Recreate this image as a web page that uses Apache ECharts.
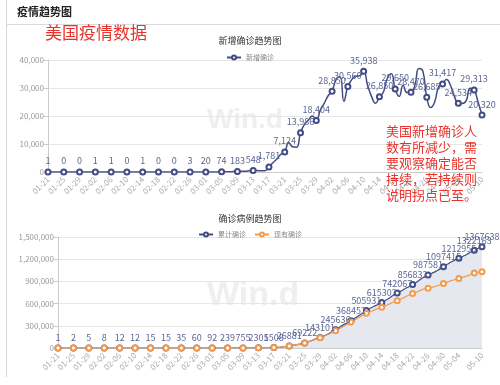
<!DOCTYPE html>
<html><head><meta charset="utf-8">
<script src="https://cdn.jsdelivr.net/npm/echarts@6/dist/echarts.min.js"></script>
<style>html,body{margin:0;padding:0;background:#fff}#c{width:500px;height:385px}</style>
</head><body><div id="c"></div>
<script>
const dates = [
'01-21','01-22','01-23','01-24','01-25','01-26','01-27','01-28','01-29','01-30','01-31',
'02-01','02-02','02-03','02-04','02-05','02-06','02-07','02-08','02-09','02-10','02-11','02-12','02-13','02-14','02-15','02-16','02-17','02-18','02-19','02-20','02-21','02-22','02-23','02-24','02-25','02-26','02-27','02-28','02-29',
'03-01','03-02','03-03','03-04','03-05','03-06','03-07','03-08','03-09','03-10','03-11','03-12','03-13','03-14','03-15','03-16','03-17','03-18','03-19','03-20','03-21','03-22','03-23','03-24','03-25','03-26','03-27','03-28','03-29','03-30','03-31',
'04-01','04-02','04-03','04-04','04-05','04-06','04-07','04-08','04-09','04-10','04-11','04-12','04-13','04-14','04-15','04-16','04-17','04-18','04-19','04-20','04-21','04-22','04-23','04-24','04-25','04-26','04-27','04-28','04-29','04-30',
'05-01','05-02','05-03','05-04','05-05','05-06','05-07','05-08','05-09','05-10'];

// 新增确诊 (daily new)
const newCases = [
1,0,0,1,0,3,0,0,0,1,1,
0,1,3,0,0,1,0,0,0,0,1,0,1,1,0,0,0,0,0,0,20,0,0,22,0,3,1,4,7,
20,21,22,30,74,80,110,143,183,230,300,468,548,500,450,476,1781,3300,4650,6300,7124,10500,9000,8855,13986,17000,18500,19975,18404,22000,24500,
27235,28850,33000,34000,25256,30560,33000,34200,34341,35938,31000,27000,24521,26850,28500,33500,35115,29650,27000,31000,28365,28470,31000,37000,36064,26685,23000,25000,30417,31417,
33000,31000,27006,24534,24500,25500,29895,29313,25000,20320];

// 累计确诊 (cumulative)
const cumCases = [
1,1,1,2,2,5,5,5,5,6,7,
7,8,11,11,11,12,12,12,12,12,13,13,14,15,15,15,15,15,15,15,35,35,35,57,57,60,61,65,72,
92,113,135,165,239,319,429,572,755,985,1285,1753,2301,2801,3251,3727,5508,8808,13458,19758,26881,37381,46381,55236,69222,86222,104722,124697,143101,165101,189601,
216836,245636,278636,312636,337892,368452,401452,435652,469993,505931,536931,563931,588452,615302,643802,677302,712417,742067,769067,800067,828432,856832,887832,924832,960896,987581,1010581,1035581,1065998,1097415,
1130415,1161415,1188421,1212955,1237455,1262955,1292850,1322163,1347163,1367638];

// 现有确诊 (active)
const activeCases = [
1,1,1,2,2,5,5,5,5,6,7,
7,8,11,11,11,12,12,12,12,11,12,12,13,13,13,13,13,13,13,13,33,33,33,55,55,57,58,62,68,
86,105,125,152,222,300,405,545,720,945,1240,1700,2230,2720,3150,3610,5350,8600,13150,19350,26300,36600,45400,54000,67600,84000,101800,121000,138500,159000,181500,
206500,232000,262000,292000,318000,350000,380000,410000,440000,470000,492000,512000,532000,552000,572000,596000,618000,638000,662000,688000,712000,735000,755000,778000,798000,808000,820000,835000,852000,870000,
890000,910000,925000,940000,955000,972000,992000,1015000,1024000,1030000];

const yTicks1 = [0, 40000, 10000];
const yTicks2 = [0, 1500000, 300000];

const N = dates.length;
const marked = i => i % 4 === 0 || i === N - 1;
const axisShown = i => (i % 4 === 0 && i < N - 4) || i === N - 1;

function pts(arr, withLabel) {
  return arr.map((v, i) => marked(i)
    ? { value: v, symbol: 'emptyCircle', label: { show: withLabel } }
    : { value: v, symbol: 'none' });
}

const FONT = '"Noto Sans CJK SC", "Noto Sans", sans-serif';
const NAVY = '#424c84';
const LBL = '#5b6594';
const ORANGE = '#f29b4c';

const xAxisBase = (gi) => ({
  type: 'category', gridIndex: gi, data: dates, boundaryGap: false,
  axisLine: { lineStyle: { color: '#ccc' } },
  axisTick: { show: false },
  axisLabel: { interval: (i) => axisShown(i), rotate: 45, fontSize: 8, color: '#aaa', fontFamily: FONT, margin: 6 }
});
const yAxisBase = (gi, t) => ({
  type: 'value', gridIndex: gi, min: t[0], max: t[1], interval: t[2],
  axisLine: { show: true, lineStyle: { color: '#ccc' } },
  axisTick: { show: true, length: 4, lineStyle: { color: '#ccc' } },
  axisLabel: { fontSize: 8, color: '#999', fontFamily: FONT, margin: 4 },
  splitLine: { lineStyle: { color: '#e6e6e6' } }
});

const chart = echarts.init(document.getElementById('c'), null, { renderer: 'canvas' });
chart.setOption({
  backgroundColor: '#fff',
  animation: false,
  textStyle: { fontFamily: FONT },
  title: [
    { text: '新增确诊趋势图', left: 'center', top: 31, textStyle: { fontSize: 9, fontWeight: 'normal', color: '#333', fontFamily: FONT } },
    { text: '确诊病例趋势图', left: 'center', top: 209, textStyle: { fontSize: 9, fontWeight: 'normal', color: '#333', fontFamily: FONT } }
  ],
  legend: [
    { data: ['新增确诊'], left: 'center', top: 49, itemWidth: 14, itemHeight: 5, itemGap: 8, textStyle: { fontSize: 7, color: '#888', fontFamily: FONT } },
    { data: ['累计确诊', '现有确诊'], left: 'center', top: 226, itemWidth: 14, itemHeight: 5, itemGap: 8, textStyle: { fontSize: 7, color: '#888', fontFamily: FONT } }
  ],
  grid: [
    { left: 48, right: 18, top: 60, height: 112 },
    { left: 58, right: 18, top: 237, height: 111 }
  ],
  xAxis: [xAxisBase(0), xAxisBase(1)],
  yAxis: [yAxisBase(0, yTicks1), yAxisBase(1, yTicks2)],
  series: [
    {
      name: '新增确诊', type: 'line', xAxisIndex: 0, yAxisIndex: 0, smooth: true,
      showAllSymbol: true, symbol: 'emptyCircle', symbolSize: 5,
      data: pts(newCases, true),
      lineStyle: { color: NAVY, width: 1.5 }, itemStyle: { color: NAVY, borderWidth: 1 },
      label: { show: false, position: 'top', distance: 3, fontSize: 9, color: LBL, fontFamily: FONT,
        formatter: p => Number(p.value).toLocaleString('en-US') }
    },
    {
      name: '累计确诊', type: 'line', xAxisIndex: 1, yAxisIndex: 1, smooth: true,
      showAllSymbol: true, symbol: 'emptyCircle', symbolSize: 5,
      data: pts(cumCases, true),
      lineStyle: { color: NAVY, width: 1.2 }, itemStyle: { color: NAVY, borderWidth: 1 },
      areaStyle: { color: '#e6e8ef', opacity: 1 },
      label: { show: false, position: 'top', distance: 2, fontSize: 9, color: LBL, fontFamily: FONT }
    },
    {
      name: '现有确诊', type: 'line', xAxisIndex: 1, yAxisIndex: 1, smooth: true,
      showAllSymbol: true, symbol: 'emptyCircle', symbolSize: 5,
      data: pts(activeCases, false),
      lineStyle: { color: ORANGE, width: 1.2 }, itemStyle: { color: ORANGE, borderWidth: 1 }
    }
  ],
  graphic: [
    { type: 'line', shape: { x1: 6.5, y1: 0, x2: 6.5, y2: 377 }, style: { stroke: '#d6d6d6', lineWidth: 1 }, z: 0 },
    { type: 'line', shape: { x1: 6, y1: 24.5, x2: 500, y2: 24.5 }, style: { stroke: '#dcdcdc', lineWidth: 1 }, z: 0 },
    { type: 'text', left: 17, top: 6, style: { text: '疫情趋势图', fill: '#222', font: 'bold 11px ' + FONT }, z: 5 },
    { type: 'text', left: 45, top: 24, style: { text: '美国疫情数据', fill: '#e8332b', font: '17px ' + FONT }, z: 5 },
    { type: 'text', left: 207, top: 106, style: { text: 'Win.d', fill: '#efefef', font: 'bold 28px Arial, "Liberation Sans", sans-serif' }, z: 0 },
    { type: 'text', left: 207, top: 279, style: { text: 'Win.d', fill: '#efefef', font: 'bold 34px Arial, "Liberation Sans", sans-serif' }, z: 0 },
    { type: 'text', left: 386, top: 123, style: { text: '美国新增确诊人\n数有所减少，需\n要观察确定能否\n持续，若持续则\n说明拐点已至。', fill: '#e8332b', font: '13px ' + FONT, lineHeight: 16 }, z: 100 }
  ]
});
</script>
</body></html>
